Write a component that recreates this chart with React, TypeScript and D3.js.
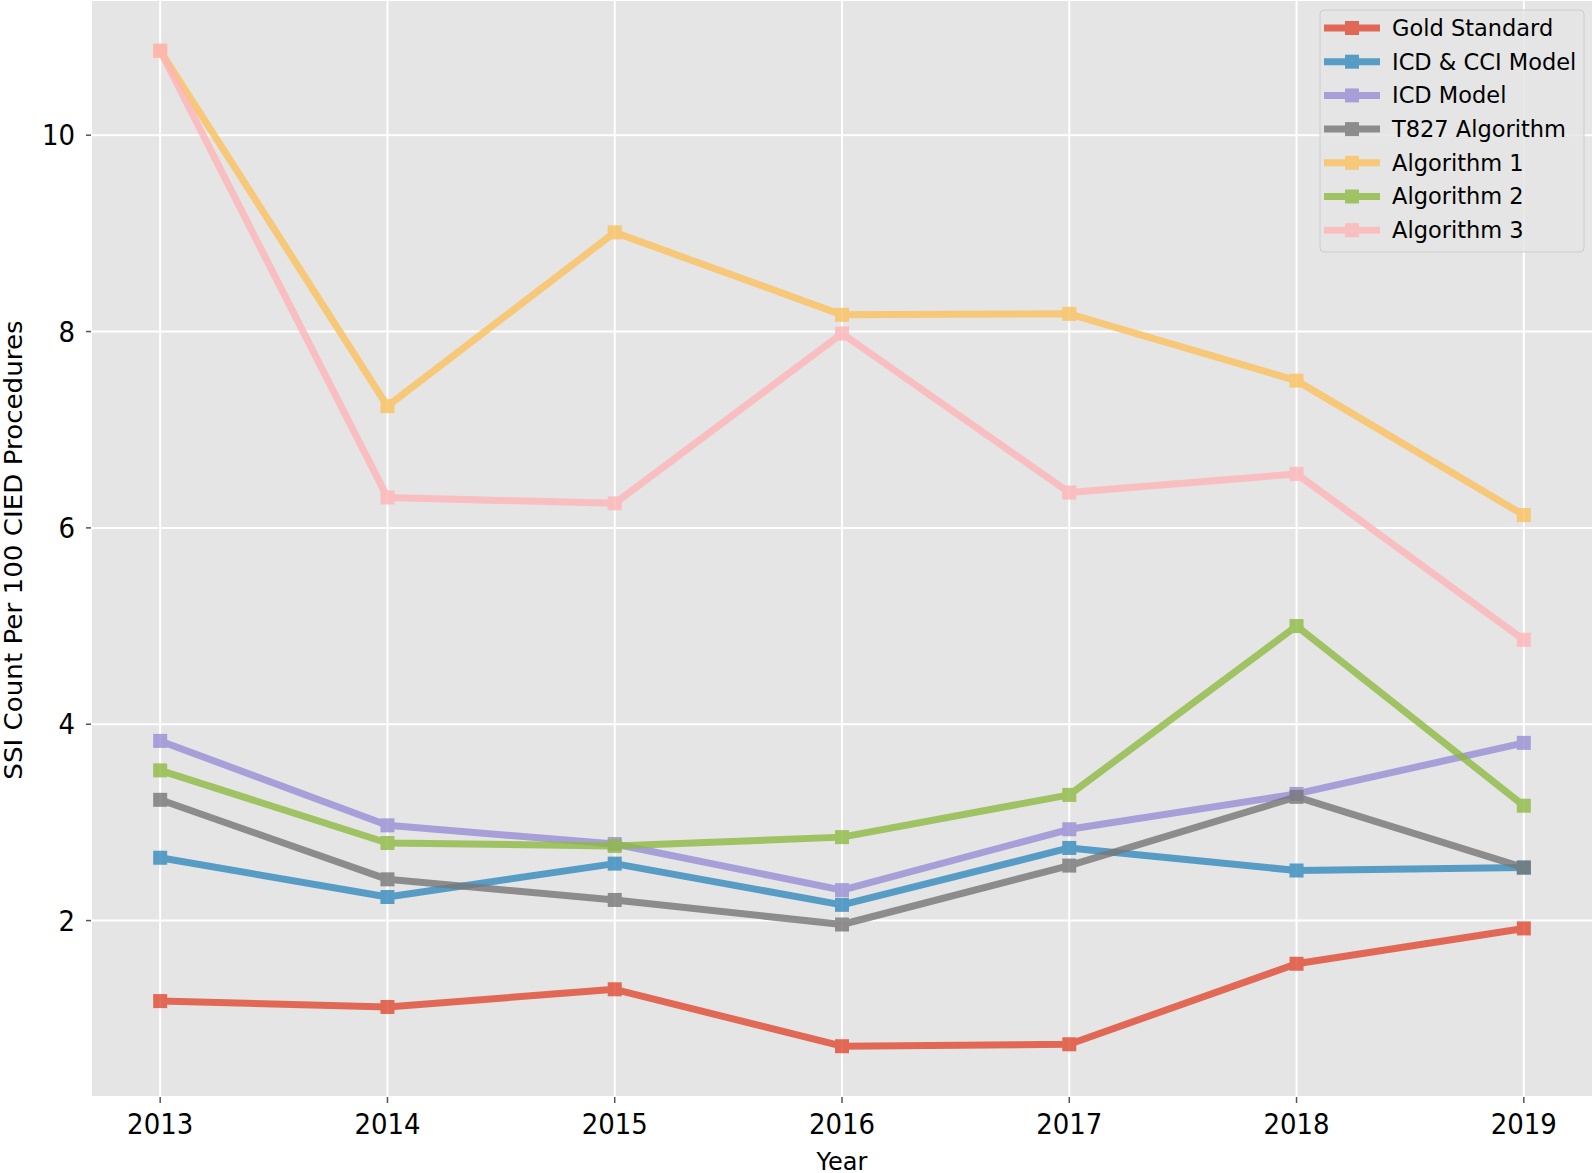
import React from "react";
import * as d3 from "d3";

const years = [2013, 2014, 2015, 2016, 2017, 2018, 2019];
const seriesNames = ["Gold Standard", "ICD & CCI Model", "ICD Model", "T827 Algorithm", "Algorithm 1", "Algorithm 2", "Algorithm 3"];
const colors = ["#E24A33", "#348ABD", "#988ED5", "#777777", "#FBC15E", "#8EBA42", "#FFB5B8"];
const goldStandard = [1.18, 1.12, 1.30, 0.72, 0.74, 1.56, 1.92];
const icdCci = [2.64, 2.24, 2.58, 2.16, 2.74, 2.51, 2.54];
const icdModel = [3.83, 2.97, 2.78, 2.31, 2.93, 3.29, 3.81];
const t827 = [3.23, 2.42, 2.21, 1.96, 2.56, 3.26, 2.54];
const algo1 = [10.86, 7.24, 9.01, 8.17, 8.18, 7.50, 6.13];
const algo2 = [3.53, 2.79, 2.76, 2.85, 3.28, 5.00, 3.17];
const algo3 = [10.86, 6.31, 6.25, 7.98, 6.36, 6.55, 4.86];
const yTicks = [2, 4, 6, 8, 10];
const allSeries = [goldStandard, icdCci, icdModel, t827, algo1, algo2, algo3];

export default function App() {
  const W = 1594, H = 1173;
  const left = 92, right = 1592, top = 1, bottom = 1096;
  const x = d3.scaleLinear().domain([2012.7, 2019.3]).range([left, right]);
  const all = allSeries.flat();
  const mn = d3.min(all)!, mx = d3.max(all)!;
  const pad = (mx - mn) * 0.05;
  const y = d3.scaleLinear().domain([mn - pad, mx + pad]).range([bottom, top]);
  const line = d3.line<number>().x((_, i) => x(years[i])).y((d) => y(d));
  const font = "'DejaVu Sans', sans-serif";
  const ms = 14;
  const tfs = 26;
  const sy = 1.12;
  return (
    <svg width={W} height={H} style={{ position: "absolute", left: 0, top: 0 }} fontFamily={font}>
      <rect x={0} y={0} width={W} height={H} fill="#fff" />
      <rect x={left} y={top} width={right - left} height={bottom - top} fill="#E5E5E5" />
      {yTicks.map((t) => (
        <g key={"y" + t}>
          <line x1={left} x2={right} y1={y(t)} y2={y(t)} stroke="#fff" strokeWidth={2} />
          <line x1={left - 6} x2={left - 1} y1={y(t)} y2={y(t)} stroke="#555" strokeWidth={1.5} />
          <text transform={`translate(${left - 17}, ${y(t)}) scale(1, ${sy})`} dy="0.35em" textAnchor="end" fontSize={tfs} fill="#000">{t}</text>
        </g>
      ))}
      {years.map((t) => (
        <g key={"x" + t}>
          <line x1={x(t)} x2={x(t)} y1={top} y2={bottom} stroke="#fff" strokeWidth={2} />
          <line x1={x(t)} x2={x(t)} y1={bottom + 1} y2={bottom + 7} stroke="#555" strokeWidth={1.5} />
          <text transform={`translate(${x(t)}, ${bottom + 28}) scale(1, ${sy})`} dy="0.35em" textAnchor="middle" fontSize={tfs} fill="#000">{t}</text>
        </g>
      ))}
      {allSeries.map((s, k) => (
        <g key={"s" + k} opacity={0.8}>
          <path d={line(s) || ""} fill="none" stroke={colors[k]} strokeWidth={7} strokeLinejoin="round" />
          {s.map((v, i) => (
            <rect key={i} x={x(years[i]) - ms / 2} y={y(v) - ms / 2} width={ms} height={ms} fill={colors[k]} />
          ))}
        </g>
      ))}
      <text transform={`translate(${(left + right) / 2}, 1161) scale(1, 1.05)`} dy="0.35em" textAnchor="middle" fontSize={24} fill="#000">Year</text>
      <text transform={`translate(14, 550) rotate(-90) scale(1.09, 1)`} dy="0.35em" textAnchor="middle" fontSize={24} fill="#000">SSI Count Per 100 CIED Procedures</text>
      <g>
        <rect x={1320} y={10} width={264} height={242} rx={4} fill="#E5E5E5" fillOpacity={0.8} stroke="#CCCCCC" strokeWidth={1} />
        {seriesNames.map((n, k) => {
          const cy = 28 + k * 33.7;
          return (
            <g key={n}>
              <g opacity={0.8}>
                <line x1={1324} x2={1380} y1={cy} y2={cy} stroke={colors[k]} strokeWidth={7} />
                <rect x={1352 - ms / 2} y={cy - ms / 2} width={ms} height={ms} fill={colors[k]} />
              </g>
              <text x={1392} y={cy} dy="0.35em" fontSize={22.5} fill="#000">{n}</text>
            </g>
          );
        })}
      </g>
    </svg>
  );
}
